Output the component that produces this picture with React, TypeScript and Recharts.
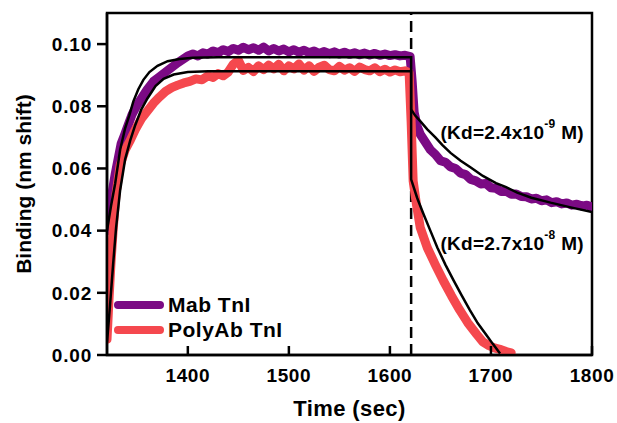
import {
  LineChart,
  Line,
  XAxis,
  YAxis,
  ReferenceLine,
  ReferenceArea,
  ReferenceDot,
} from 'recharts';

const FONT = '"Liberation Sans", Arial, sans-serif';
const PURPLE = '#7b0a84';
const RED = '#f5484e';

// Mab TnI raw trace (sec, nm shift)
const mabTime = [
  1320, 1322, 1325, 1328, 1331, 1334, 1337, 1341, 1345, 1350, 1355, 1360, 1366, 1372, 1380,
  1390, 1400, 1405, 1410, 1415, 1420, 1425, 1430, 1435, 1440, 1445, 1450, 1455, 1460, 1465,
  1470, 1475, 1480, 1485, 1490, 1495, 1500, 1505, 1510, 1515, 1520, 1525, 1530, 1535, 1540,
  1545, 1550, 1555, 1560, 1565, 1570, 1575, 1580, 1585, 1590, 1595, 1600, 1605, 1610, 1615,
  1620, 1622, 1624, 1627, 1630, 1635, 1640, 1645, 1650, 1655, 1660, 1665, 1670, 1675, 1680,
  1685, 1690, 1695, 1700, 1705, 1710, 1715, 1720, 1725, 1730, 1735, 1740, 1745, 1750, 1755,
  1760, 1765, 1770, 1775, 1780, 1785, 1790, 1795, 1800,
];
const mabBinding = [
  0.040, 0.046, 0.052, 0.058, 0.063, 0.068, 0.0705, 0.074, 0.0775, 0.0805, 0.083, 0.0855, 0.088, 0.0895, 0.0915,
  0.094, 0.0962, 0.0968, 0.0962, 0.0972, 0.0968, 0.0978, 0.0972, 0.0982, 0.0976, 0.0986, 0.098, 0.099, 0.0982, 0.0988,
  0.098, 0.099, 0.0978, 0.0986, 0.0978, 0.0984, 0.0975, 0.0982, 0.0974, 0.098, 0.0972, 0.0978, 0.097, 0.0976, 0.0969,
  0.0975, 0.0968, 0.0974, 0.0967, 0.0972, 0.0966, 0.0971, 0.0965, 0.097, 0.0964, 0.0968, 0.0963, 0.0966, 0.0962, 0.0964,
  0.096, 0.088, 0.078, 0.0735, 0.071, 0.0685, 0.066, 0.0645, 0.0625, 0.062, 0.0605, 0.06, 0.0585, 0.058, 0.0565,
  0.056, 0.055, 0.0552, 0.0538, 0.0536, 0.0526, 0.0527, 0.0517, 0.0518, 0.051, 0.0509, 0.0502, 0.0504, 0.0496, 0.0499,
  0.049, 0.0493, 0.0486, 0.0489, 0.0482, 0.0485, 0.0479, 0.0482, 0.0476,
];

// PolyAb TnI raw trace
const polyTime = [
  1320, 1322, 1324, 1326, 1329, 1333, 1338, 1343, 1348, 1354, 1360, 1366, 1372, 1378, 1384,
  1390, 1396, 1402, 1408, 1414, 1420, 1425, 1430, 1435, 1440, 1445, 1450, 1455, 1460, 1465,
  1470, 1475, 1480, 1485, 1490, 1495, 1500, 1505, 1510, 1515, 1520, 1525, 1530, 1535, 1540,
  1545, 1550, 1555, 1560, 1565, 1570, 1575, 1580, 1585, 1590, 1595, 1600, 1605, 1610, 1615,
  1619, 1621, 1623, 1626, 1630, 1637, 1645, 1653, 1661, 1669, 1677, 1686, 1692, 1698, 1704,
  1710, 1715, 1720,
];
const polyBinding = [
  0.005, 0.018, 0.03, 0.04, 0.052, 0.061, 0.066, 0.069, 0.0725, 0.076, 0.0785, 0.081, 0.083, 0.0848, 0.086,
  0.0868, 0.0875, 0.088, 0.0888, 0.0885, 0.0898, 0.0893, 0.0905, 0.0898, 0.091, 0.0935, 0.0948, 0.0915, 0.0925, 0.0912,
  0.093, 0.0918, 0.0932, 0.092, 0.0935, 0.0914, 0.093, 0.092, 0.0936, 0.0916, 0.093, 0.0912, 0.0926, 0.0932, 0.0918,
  0.0914, 0.0928, 0.0916, 0.0924, 0.0912, 0.0926, 0.0918, 0.0914, 0.0924, 0.0911, 0.0919, 0.091, 0.0917, 0.0911, 0.0914,
  0.0908, 0.075, 0.056, 0.049, 0.041, 0.0345, 0.029, 0.0238, 0.019, 0.0145, 0.0104, 0.0066, 0.0042, 0.003, 0.0022,
  0.0017, 0.0011, 0.0007,
];

// fitted curves (black)
const mabFitTime = [
  1320, 1324, 1328, 1333, 1338, 1342, 1346, 1351, 1356, 1362, 1370, 1380, 1392, 1405, 1430, 1621,
  1621, 1625, 1630, 1637, 1645, 1652, 1660, 1670, 1680, 1692, 1705, 1715, 1726, 1740, 1759, 1780, 1800,
];
const mabFitValue = [
  0.04, 0.048, 0.055, 0.066, 0.073, 0.077, 0.0815, 0.0855, 0.0885, 0.091, 0.093, 0.0945, 0.0952, 0.0956, 0.0958, 0.0958,
  0.079, 0.077, 0.0752, 0.0726, 0.07, 0.0675, 0.065, 0.0625, 0.0603, 0.0576, 0.0553, 0.054, 0.0522, 0.0506, 0.049, 0.0474, 0.046,
];
const polyFitTime = [
  1320, 1323, 1326, 1329, 1333, 1338, 1343, 1348, 1354, 1360, 1368, 1376, 1386, 1400, 1420, 1621,
  1621, 1627, 1633, 1640, 1647, 1655, 1663, 1671, 1679, 1687, 1696, 1702, 1709,
];
const polyFitValue = [
  0.004, 0.016, 0.029, 0.041, 0.053, 0.063, 0.069, 0.074, 0.079, 0.0825, 0.0865, 0.0888, 0.0902, 0.091, 0.0913, 0.0913,
  0.0565, 0.0505, 0.0455, 0.04, 0.0345, 0.029, 0.024, 0.0192, 0.0145, 0.0102, 0.0062, 0.0035, 0.0005,
];

const xTicks = [1400, 1500, 1600, 1700, 1800];
const yTicks = [0, 0.02, 0.04, 0.06, 0.08, 0.1];
const switchTime = 1621;

const kdNotes = [
  { t: 1721, v: 0.0716, mant: '2.4', exp: '-9' },
  { t: 1721, v: 0.0361, mant: '2.7', exp: '-8' },
];

const legendItems = [
  { name: 'Mab TnI', color: PURPLE },
  { name: 'PolyAb TnI', color: RED },
];

const toRows = (ts: number[], vs: number[]) => ts.map((t, i) => ({ t, v: vs[i] }));

const mabData = toRows(mabTime, mabBinding);
const polyData = toRows(polyTime, polyBinding);
const mabFit = toRows(mabFitTime, mabFitValue);
const polyFit = toRows(polyFitTime, polyFitValue);

const XTick = ({ x, y, payload }: any) => (
  <g>
    <line x1={x} x2={x} y1={y} y2={y - 9} stroke="#000" strokeWidth={2.5} />
    <text
      x={x}
      y={y + 20}
      textAnchor="middle"
      dominantBaseline="central"
      fontFamily={FONT}
      fontWeight={700}
      fontSize={19}
      letterSpacing={0.6}
      fill="#000"
    >
      {payload.value}
    </text>
  </g>
);

const kdLabel = (mant: string, exp: string) => (props: any) => {
  const { viewBox } = props;
  const x = viewBox.x + (viewBox.width || 0) / 2;
  const y = viewBox.y + (viewBox.height || 0) / 2;
  return (
    <text
      x={x}
      y={y}
      textAnchor="middle"
      dominantBaseline="central"
      fontFamily={FONT}
      fontWeight={700}
      fontSize={19}
      letterSpacing={0.3}
      fill="#000"
    >
      <tspan>{`(Kd=${mant}x10`}</tspan>
      <tspan dy={-8} fontSize={12}>{exp}</tspan>
      <tspan dy={8}>{' M)'}</tspan>
    </text>
  );
};

export default function App() {
  return (
    <div style={{ position: 'absolute', left: 0, top: 0, width: 617, height: 423, background: '#fff' }}>
      <LineChart width={617} height={423} margin={{ top: 13, right: 25, bottom: 0, left: 0 }}>
        <XAxis
          dataKey="t"
          type="number"
          domain={[1320, 1800]}
          ticks={xTicks}
          allowDataOverflow
          height={68}
          tickSize={0}
          tickMargin={0}
          tickLine={false}
          tick={<XTick />}
          axisLine={{ stroke: '#000', strokeWidth: 2.5 }}
          label={{
            content: ({ viewBox }: any) => (
              <text
                x={viewBox.x + viewBox.width / 2}
                y={viewBox.y + 53}
                textAnchor="middle"
                dominantBaseline="central"
                fontFamily={FONT}
                fontWeight={700}
                fontSize={22}
                letterSpacing={0.4}
                fill="#000"
              >
                Time (sec)
              </text>
            ),
          }}
        />
        <YAxis
          type="number"
          domain={[0, 0.11]}
          ticks={yTicks}
          allowDataOverflow
          width={107}
          tickSize={10}
          tickMargin={5}
          tickFormatter={(v: number) => v.toFixed(2)}
          tick={{ fontFamily: FONT, fontWeight: 700, fontSize: 19, fill: '#000', letterSpacing: 0.8 }}
          tickLine={{ stroke: '#000', strokeWidth: 2.5 }}
          axisLine={{ stroke: '#000', strokeWidth: 2.5 }}
          label={{
            content: ({ viewBox }: any) => {
              const cx = viewBox.x + 23;
              const cy = viewBox.y + viewBox.height / 2;
              return (
                <text
                  x={cx}
                  y={cy}
                  transform={`rotate(-90 ${cx} ${cy})`}
                  textAnchor="middle"
                  dominantBaseline="central"
                  fontFamily={FONT}
                  fontWeight={700}
                  fontSize={21}
                  fill="#000"
                >
                  Binding (nm shift)
                </text>
              );
            },
          }}
        />
        <ReferenceArea x1={1320} x2={1800} y1={0} y2={0.11} fill="none" stroke="#000" strokeWidth={2.5} />
        <ReferenceLine x={switchTime} stroke="#000" strokeWidth={2.5} strokeDasharray="11 6" />
        <Line
          data={mabData}
          dataKey="v"
          type="linear"
          stroke={PURPLE}
          strokeWidth={9}
          strokeLinejoin="round"
          strokeLinecap="round"
          dot={false}
          isAnimationActive={false}
        />
        <Line
          data={polyData}
          dataKey="v"
          type="linear"
          stroke={RED}
          strokeWidth={9}
          strokeLinejoin="round"
          strokeLinecap="round"
          dot={false}
          isAnimationActive={false}
        />
        <Line
          data={mabFit}
          dataKey="v"
          type="linear"
          stroke="#000"
          strokeWidth={2.5}
          dot={false}
          isAnimationActive={false}
        />
        <Line
          data={polyFit}
          dataKey="v"
          type="linear"
          stroke="#000"
          strokeWidth={2.5}
          dot={false}
          isAnimationActive={false}
        />
        {kdNotes.map((n) => (
          <ReferenceDot
            key={n.mant}
            x={n.t}
            y={n.v}
            r={0}
            fill="none"
            stroke="none"
            label={{ content: kdLabel(n.mant, n.exp) }}
          />
        ))}
      </LineChart>
      <div
        style={{
          position: 'absolute',
          left: 114,
          top: 292,
          fontFamily: FONT,
          fontWeight: 700,
          fontSize: 21,
          letterSpacing: 0.5,
          color: '#000',
        }}
      >
        {legendItems.map((it) => (
          <div key={it.name} style={{ display: 'flex', alignItems: 'center', height: 25 }}>
            <span
              style={{
                display: 'inline-block',
                width: 50,
                height: 8,
                borderRadius: 4,
                background: it.color,
                marginRight: 4,
              }}
            />
            <span>{it.name}</span>
          </div>
        ))}
      </div>
    </div>
  );
}
